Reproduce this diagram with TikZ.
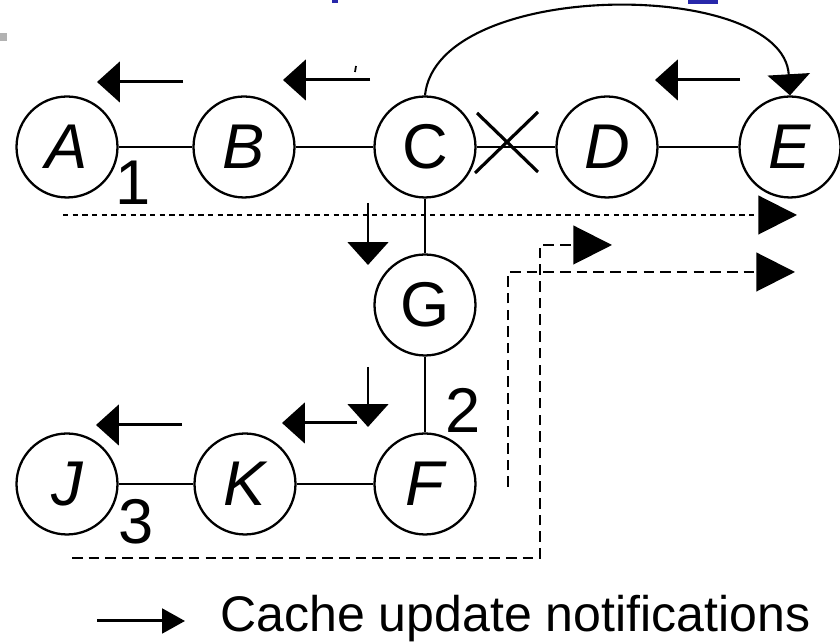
\documentclass[tikz,border=0pt]{standalone}
\usepackage{fontspec}
\setmainfont{Liberation Sans}
\usetikzlibrary{arrows.meta}
\definecolor{linkblue}{RGB}{40,40,170}

\begin{document}
\begin{tikzpicture}[x=0.02cm, y=-0.02cm,
    peer/.style={circle, draw, line width=1.3pt, minimum size=2.02cm, inner sep=0pt,
      font=\fontsize{36}{40}\selectfont\itshape},
    link/.style={line width=1.4pt},
    notif/.style={line width=1.7pt, -{Triangle[length=13pt,width=23pt]}},
    fwd/.style={line width=1.2pt, dash pattern=on 6pt off 3.5pt, -{Triangle[length=22pt,width=22pt]}},
    num/.style={font=\fontsize{36}{40}\selectfont}]
      \useasboundingbox (0,0) rectangle (840,644);
      % leftovers of the slide
      \fill[gray!60] (0,33) rectangle (7,41);
      \fill[linkblue] (332,0) rectangle (338,3);
      \fill[linkblue] (688,0) rectangle (718,4);

      \draw
      (67,147)  node[peer](a){A}
      (244,147) node[peer](b){B}
      (425,147) node[peer](c){\upshape C}
      (607,147) node[peer](d){D}
      (790,147) node[peer](e){E}
      (425,305) node[peer](g){\upshape G}
      (67,484)  node[peer](j){J}
      (245,484) node[peer](k){K}
      (425,484) node[peer](f){F};

      \draw[link] (a) -- (b);
      \draw[link] (b) -- (c);
      \draw[link] (c) -- (d);
      \draw[link] (d) -- (e);
      \draw[link] (c) -- (g);
      \draw[link] (g) -- (f);
      \draw[link] (j) -- (k);
      \draw[link] (k) -- (f);

      % broken link C--D
      \draw[line width=1.8pt] (475,173) -- (538,112) (477,113) -- (538,172);

      \node[num] (n1) at (133,183) {1};
      \node[num] (n2) at (463,410) {2};
      \node[num] (n3) at (136,522) {3};

      % cache update notifications
      \coordinate (na0) at (183,82);  \coordinate (na1) at (97,82);
      \coordinate (nb0) at (370,80);  \coordinate (nb1) at (283,80);
      \coordinate (nd0) at (740,80);  \coordinate (nd1) at (655,80);
      \coordinate (ng0) at (368,203); \coordinate (ng1) at (368,265);
      \coordinate (nf0) at (368,367); \coordinate (nf1) at (368,427);
      \coordinate (nk0) at (357,423); \coordinate (nk1) at (282,423);
      \coordinate (nj0) at (182,425); \coordinate (nj1) at (96,425);
      \draw[notif] (na0) -- (na1);
      \draw[notif] (nb0) -- (nb1);
      \draw[line width=1pt] (356,66) -- (355,72);
      \draw[notif] (nd0) -- (nd1);
      \draw[notif] (ng0) -- (ng1);
      \draw[notif] (nf0) -- (nf1);
      \draw[notif] (nk0) -- (nk1);
      \draw[notif] (nj0) -- (nj1);
      \draw[notif, line width=1.2pt, -{Triangle[length=12pt,width=24pt]}]
        (c.north) .. controls (437,-22) and (783,-22) .. (e.north);

      % forwarded copies
      \coordinate (t0) at (63,215);  \coordinate (t1) at (797,215);
      \coordinate (r0) at (508,487); \coordinate (r1) at (795,272);
      \coordinate (s0) at (72,558);  \coordinate (s1) at (612,245);
      \draw[fwd, dash pattern=on 3pt off 2.5pt] (t0) -- (t1);
      \draw[fwd] (r0) |- (r1);
      \draw[fwd] (s0) -| (540,245) -- (s1);

      % legend
      \coordinate (l0) at (97,621); \coordinate (l1) at (185,621);
      \draw[notif, -{Triangle[length=13pt,width=14pt]}] (l0) -- (l1);
      \node[anchor=base west, inner sep=0pt, font=\fontsize{28.5}{32}\selectfont] (legend) at (220,632)
        {Cache update notifications};
    \end{tikzpicture}
\end{document}
